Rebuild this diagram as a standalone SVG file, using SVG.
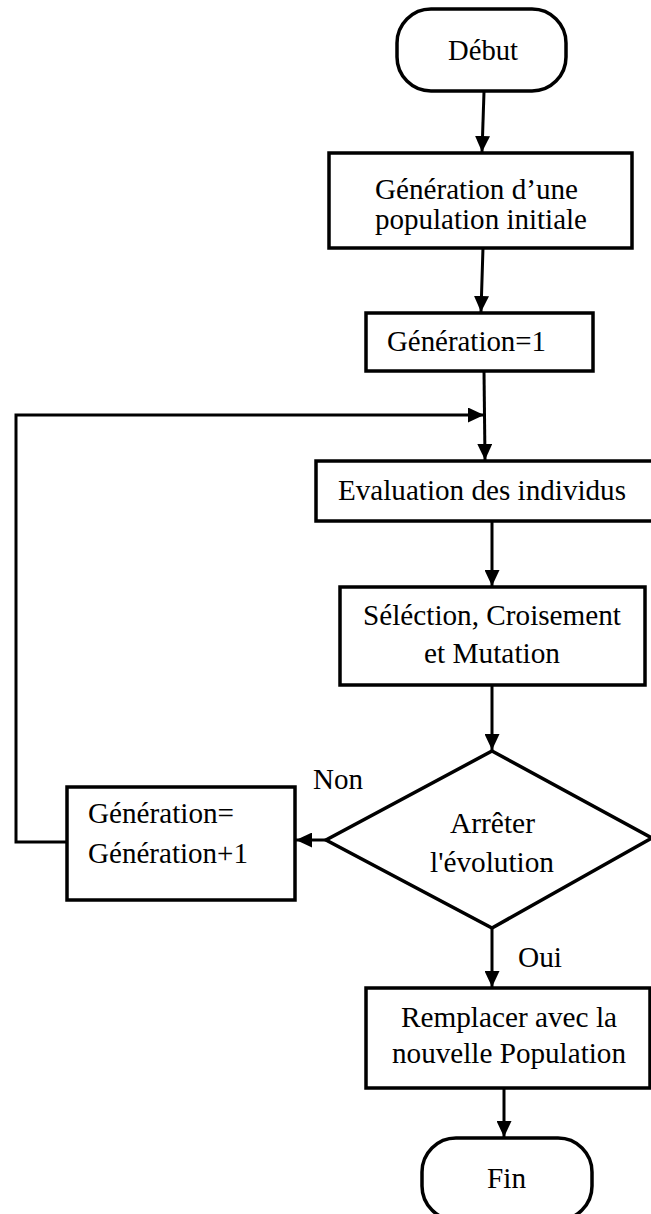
<svg xmlns="http://www.w3.org/2000/svg" width="651" height="1214" viewBox="0 0 651 1214">
  <style>
    .shape { fill: #ffffff; stroke: #000000; stroke-width: 3.5; }
    .link { fill: none; stroke: #000000; stroke-width: 3; }
    .lbl { font-family: "Liberation Serif", "Times New Roman", serif; font-size: 29px; fill: #000000; }
  </style>
  <defs>
    <marker id="arrow" markerUnits="userSpaceOnUse" markerWidth="16" markerHeight="15" refX="16" refY="7.5" orient="auto">
      <path d="M0,0 L16,7.5 L0,15 Z" fill="#000000"/>
    </marker>
  </defs>
  <rect width="651" height="1214" fill="#ffffff"/>

  <!-- connectors -->
  <g id="connectors">
    <line class="link" x1="484" y1="92" x2="482" y2="152" marker-end="url(#arrow)"/>
    <line class="link" x1="483" y1="248" x2="481" y2="312" marker-end="url(#arrow)"/>
    <line class="link" x1="484" y1="371" x2="485" y2="460" marker-end="url(#arrow)"/>
    <polyline class="link" points="67,842 16,842 16,415 484,415" marker-end="url(#arrow)"/>
    <line class="link" x1="492" y1="521" x2="492" y2="586" marker-end="url(#arrow)"/>
    <line class="link" x1="492" y1="685" x2="492" y2="750" marker-end="url(#arrow)"/>
    <line class="link" x1="326" y1="840" x2="296" y2="840" marker-end="url(#arrow)"/>
    <line class="link" x1="492" y1="928" x2="492" y2="987" marker-end="url(#arrow)"/>
    <line class="link" x1="504" y1="1088" x2="504" y2="1137" marker-end="url(#arrow)"/>
  </g>

  <!-- start terminal -->
  <g id="debut">
    <rect class="shape" x="397" y="9" width="169" height="82" rx="34" ry="34"/>
    <text class="lbl" x="448" y="60" textLength="70" lengthAdjust="spacingAndGlyphs">Début</text>
  </g>

  <!-- initial population -->
  <g id="init-pop">
    <rect class="shape" x="329" y="153" width="303" height="95"/>
    <text class="lbl" x="375" y="199" textLength="203" lengthAdjust="spacingAndGlyphs">Génération d’une</text>
    <text class="lbl" x="375" y="229" textLength="212" lengthAdjust="spacingAndGlyphs">population initiale</text>
  </g>

  <!-- generation counter init -->
  <g id="gen-init">
    <rect class="shape" x="366" y="313" width="227" height="58"/>
    <text class="lbl" x="387" y="351" textLength="159" lengthAdjust="spacingAndGlyphs">Génération=1</text>
  </g>

  <!-- evaluation -->
  <g id="evaluation">
    <rect class="shape" x="316" y="461" width="345" height="60"/>
    <text class="lbl" x="338" y="500" textLength="288" lengthAdjust="spacingAndGlyphs">Evaluation des individus</text>
  </g>

  <!-- genetic operators -->
  <g id="operators">
    <rect class="shape" x="340" y="587" width="305" height="98"/>
    <text class="lbl" x="363" y="625" textLength="258" lengthAdjust="spacingAndGlyphs">Séléction, Croisement</text>
    <text class="lbl" x="424" y="663" textLength="136" lengthAdjust="spacingAndGlyphs">et Mutation</text>
  </g>

  <!-- stop test -->
  <g id="stop-test">
    <polygon class="shape" points="492,751 652,838 492,928 326,840"/>
    <text class="lbl" x="450" y="833" textLength="85" lengthAdjust="spacingAndGlyphs">Arrêter</text>
    <text class="lbl" x="430" y="872" textLength="124" lengthAdjust="spacingAndGlyphs">l'évolution</text>
  </g>

  <!-- branch labels -->
  <g id="branch-labels">
    <text class="lbl" x="313" y="789" textLength="50" lengthAdjust="spacingAndGlyphs">Non</text>
    <text class="lbl" x="518" y="967" textLength="44" lengthAdjust="spacingAndGlyphs">Oui</text>
  </g>

  <!-- generation increment -->
  <g id="gen-incr">
    <rect class="shape" x="67" y="787" width="228" height="113"/>
    <text class="lbl" x="88" y="823" textLength="146" lengthAdjust="spacingAndGlyphs">Génération=</text>
    <text class="lbl" x="88" y="863" textLength="160" lengthAdjust="spacingAndGlyphs">Génération+1</text>
  </g>

  <!-- replacement -->
  <g id="replace">
    <rect class="shape" x="366" y="988" width="284" height="100"/>
    <text class="lbl" x="401" y="1027" textLength="216" lengthAdjust="spacingAndGlyphs">Remplacer avec la</text>
    <text class="lbl" x="392" y="1063" textLength="234" lengthAdjust="spacingAndGlyphs">nouvelle Population</text>
  </g>

  <!-- end terminal -->
  <g id="fin">
    <rect class="shape" x="422" y="1138" width="170" height="82" rx="34" ry="34"/>
    <text class="lbl" x="487" y="1188" textLength="39" lengthAdjust="spacingAndGlyphs">Fin</text>
  </g>
</svg>
